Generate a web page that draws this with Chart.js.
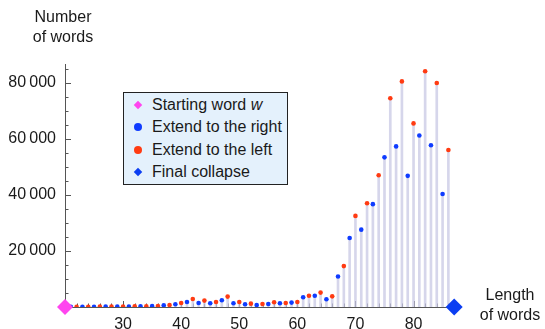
<!DOCTYPE html>
<html>
<head>
<meta charset="utf-8">
<script src="https://cdn.jsdelivr.net/npm/chart.js@4/dist/chart.umd.min.js"></script>
<style>
  html, body { margin: 0; padding: 0; background: #fff; }
  #wrap { position: relative; width: 545px; height: 329px; font-family: "Liberation Sans", Arial, sans-serif; color: #1a1a1a; }
  #chart { position: absolute; left: 0; top: 0; }
  .axis-title { position: absolute; font-size: 16px; line-height: 20px; text-align: center; }
  #legend { position: absolute; left: 123px; top: 92px; width: 165px; height: 93px; box-sizing: border-box;
            background: #e4f1fc; border: 1px solid #222; padding-top: 1px; font-size: 16px; }
  #legend .row { position: relative; height: 22.3px; line-height: 22.3px; padding-left: 28px; white-space: nowrap; }
  #legend .mk { position: absolute; left: 14px; top: 50%; transform: translate(-50%, -50%); }
  #legend .dia { width: 6px; height: 6px; transform: translate(-50%, -50%) rotate(45deg); }
  #legend .dot { width: 8px; height: 8px; border-radius: 50%; }
</style>
</head>
<body>
<div id="wrap">
  <canvas id="chart" width="545" height="329"></canvas>
  <div class="axis-title" style="left:23px; top:7px; width:80px;">Number<br>of words</div>
  <div class="axis-title" style="left:470px; top:285px; width:80px;">Length<br>of words</div>
  <div id="legend"></div>
</div>
<script>
// word lengths and word counts
const rightLengths = [21, 23, 25, 27, 29, 31, 33, 35, 37, 39, 41, 43, 45, 47, 49, 51, 53,
  55, 57, 59, 61, 63, 65, 67, 69, 71, 73, 75, 77, 79, 81, 83, 85];
const rightCounts = [30, 60, 100, 150, 180, 200, 250, 300, 610, 960, 1790, 1430, 1320, 2390, 1320, 960, 710,
  1070, 1320, 1570, 3500, 4000, 2750, 10900, 24600, 27600, 36700, 53400, 57300, 46800, 61200, 57700, 40300];

const leftLengths = [22, 24, 26, 28, 30, 32, 34, 36, 38, 40, 42, 44, 46, 48, 50, 52, 54,
  56, 58, 60, 62, 64, 66, 68, 70, 72, 74, 76, 78, 80, 82, 84, 86];
const leftCounts = [40, 80, 120, 150, 200, 230, 280, 360, 710, 1430, 2860, 2290, 1790, 3710, 1790, 1200, 1070,
  1680, 1430, 1790, 4000, 5140, 3800, 14600, 32500, 37000, 47000, 74500, 80500, 65500, 84100, 79900, 56000];

const startLength = [20];
const startCount = [0];
const finalLength = [87];
const finalCount = [0];

const xTickLabels = [30, 40, 50, 60, 70, 80];
const yTickLabels = [20000, 40000, 60000, 80000];

const colors = { start: '#ff45ef', right: '#0f3cff', left: '#ff3b12', final: '#0b3ef2', stem: 'rgba(200,200,228,0.75)' };

function pts(xs, ys) { return xs.map((x, i) => ({ x: x, y: ys[i] })); }

// little tick marks drawn inside the plot, like the original
const innerTicks = {
  id: 'innerTicks',
  beforeDatasetsDraw(chart) {
    const { ctx, scales: { x, y } } = chart;
    ctx.save();
    ctx.strokeStyle = '#555';
    ctx.lineWidth = 1;
    ctx.beginPath();
    for (let v = 5000; v <= 85000; v += 5000) {
      const py = Math.round(y.getPixelForValue(v)) + 0.5;
      const len = v % 20000 === 0 ? 6 : 3.5;
      ctx.moveTo(x.left, py); ctx.lineTo(x.left + len, py);
    }
    for (let v = 22; v <= 86; v += 2) {
      const px = Math.round(x.getPixelForValue(v)) + 0.5;
      const len = v % 10 === 0 ? 6 : 3.5;
      ctx.moveTo(px, y.bottom); ctx.lineTo(px, y.bottom - len);
    }
    ctx.stroke();
    ctx.restore();
  }
};

const chart = new Chart(document.getElementById('chart'), {
  type: 'scatter',
  data: {
    datasets: [
      { type: 'bar', label: 'stems', data: pts(rightLengths, rightCounts).concat(pts(leftLengths, leftCounts)),
        backgroundColor: colors.stem, barThickness: 2, order: 5 },
      { label: 'Extend to the right', data: pts(rightLengths, rightCounts), pointRadius: 2.3,
        backgroundColor: colors.right, borderColor: colors.right, borderWidth: 0, order: 3 },
      { label: 'Extend to the left', data: pts(leftLengths, leftCounts), pointRadius: 2.3,
        backgroundColor: colors.left, borderColor: colors.left, borderWidth: 0, order: 3 },
      { label: 'Starting word w', data: pts(startLength, startCount), pointStyle: 'rectRot', pointRadius: 8,
        backgroundColor: colors.start, borderColor: colors.start, borderWidth: 0, clip: false, order: 1 },
      { label: 'Final collapse', data: pts(finalLength, finalCount), pointStyle: 'rectRot', pointRadius: 8.5,
        backgroundColor: colors.final, borderColor: colors.final, borderWidth: 0, clip: false, order: 1 }
    ]
  },
  options: {
    responsive: false,
    animation: false,
    layout: { padding: { left: 0, top: 64, right: 85, bottom: 0 } },
    plugins: { legend: { display: false }, tooltip: { enabled: false } },
    scales: {
      x: {
        type: 'linear', min: 20, max: 88, offset: false,
        grid: { display: false, drawTicks: false },
        border: { display: true, color: '#555', width: 1 },
        afterBuildTicks: s => { s.ticks = xTickLabels.map(v => ({ value: v })); },
        afterFit: s => { s.height = 22; },
        ticks: { color: '#1a1a1a', padding: 8, maxRotation: 0, font: { family: 'Liberation Sans', size: 16 } }
      },
      y: {
        min: 0, max: 86700,
        grid: { display: false, drawTicks: false },
        border: { display: true, color: '#555', width: 1 },
        afterBuildTicks: s => { s.ticks = yTickLabels.map(v => ({ value: v })); },
        afterFit: s => { s.width = 65; },
        ticks: {
          color: '#1a1a1a', padding: 9, font: { family: 'Liberation Sans', size: 16 },
          callback: v => String(v).replace(/\B(?=(\d{3})+(?!\d))/g, '\u2009')
        }
      }
    }
  },
  plugins: [innerTicks]
});

// legend box in the plot, same entries as the chart's point series
const legendItems = [
  { html: 'Starting word <i>w</i>', color: colors.start, cls: 'dia' },
  { html: 'Extend to the right', color: colors.right, cls: 'dot' },
  { html: 'Extend to the left', color: colors.left, cls: 'dot' },
  { html: 'Final collapse', color: colors.final, cls: 'dia' }
];
document.getElementById('legend').innerHTML = legendItems.map(it =>
  '<div class="row"><span class="mk ' + it.cls + '" style="background:' + it.color + '"></span>' + it.html + '</div>'
).join('');
</script>
</body>
</html>
